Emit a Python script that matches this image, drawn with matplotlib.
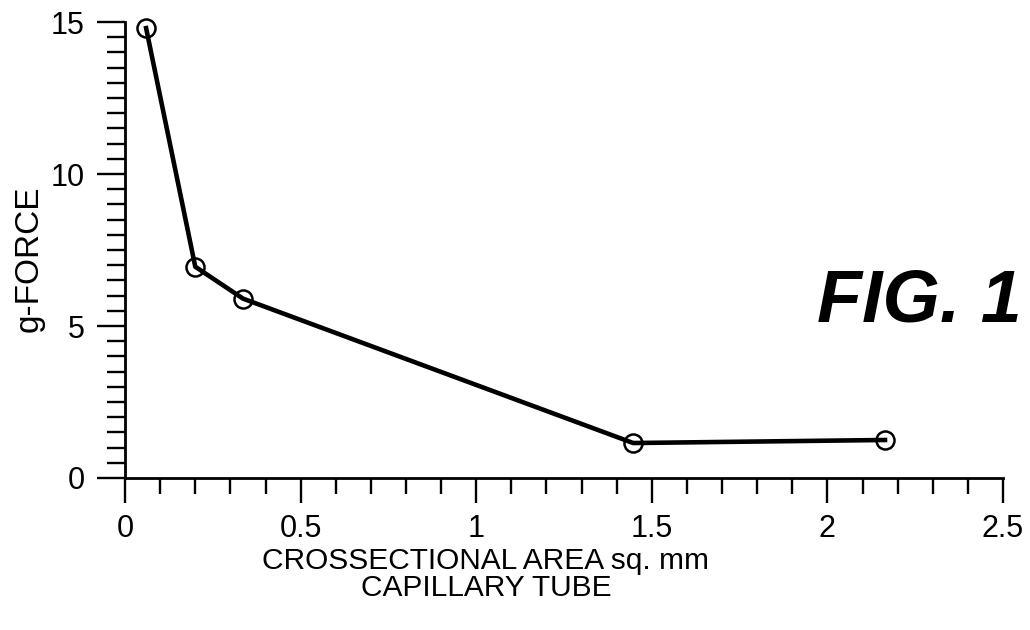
import numpy as np
import matplotlib.pyplot as plt
from matplotlib.ticker import MultipleLocator

plt.rcParams['font.family'] = ['Liberation Sans', 'DejaVu Sans']

# data
area = [0.06, 0.20, 0.336, 1.447, 2.164]
gforce = [14.8, 6.95, 5.9, 1.15, 1.25]

fig = plt.figure(figsize=(10.3, 6.3), dpi=100)
ax = fig.add_axes([0.1214, 0.2413, 0.8524, 0.7237])

ax.plot(area, gforce, color='k', lw=3.3, marker='o', ms=13,
        mfc='none', mec='k', mew=1.8, clip_on=False)

ax.set_xlim(0, 2.5)
ax.set_ylim(0, 15)
ax.xaxis.set_major_locator(MultipleLocator(0.5))
ax.xaxis.set_minor_locator(MultipleLocator(0.1))
ax.yaxis.set_major_locator(MultipleLocator(5))
ax.yaxis.set_minor_locator(MultipleLocator(0.5))
ax.set_xticks([0, 0.5, 1, 1.5, 2, 2.5], ['0', '0.5', '1', '1.5', '2', '2.5'])

for s in ['top', 'right']:
    ax.spines[s].set_visible(False)
for s in ['left', 'bottom']:
    ax.spines[s].set_linewidth(2)

ax.tick_params(axis='both', which='both', width=1.7, direction='out')
ax.tick_params(axis='x', which='major', length=18, labelsize=22, pad=8)
ax.tick_params(axis='x', which='minor', length=11.5)
ax.tick_params(axis='y', which='major', length=20, labelsize=22, pad=9)
ax.tick_params(axis='y', which='minor', length=13)

ax.set_xlabel('CROSSECTIONAL AREA sq. mm\nCAPILLARY TUBE', fontsize=21.5,
              linespacing=0.95)
ax.xaxis.set_label_coords(0.411, -0.152)
ax.set_ylabel('g-FORCE', fontsize=24)
ax.yaxis.set_label_coords(-0.092, 0.48)

fig.text(0.992, 0.489, 'FIG. 1', fontsize=53, fontweight='bold',
         fontstyle='italic', ha='right', va='baseline')

plt.savefig('out.png', dpi=100)
